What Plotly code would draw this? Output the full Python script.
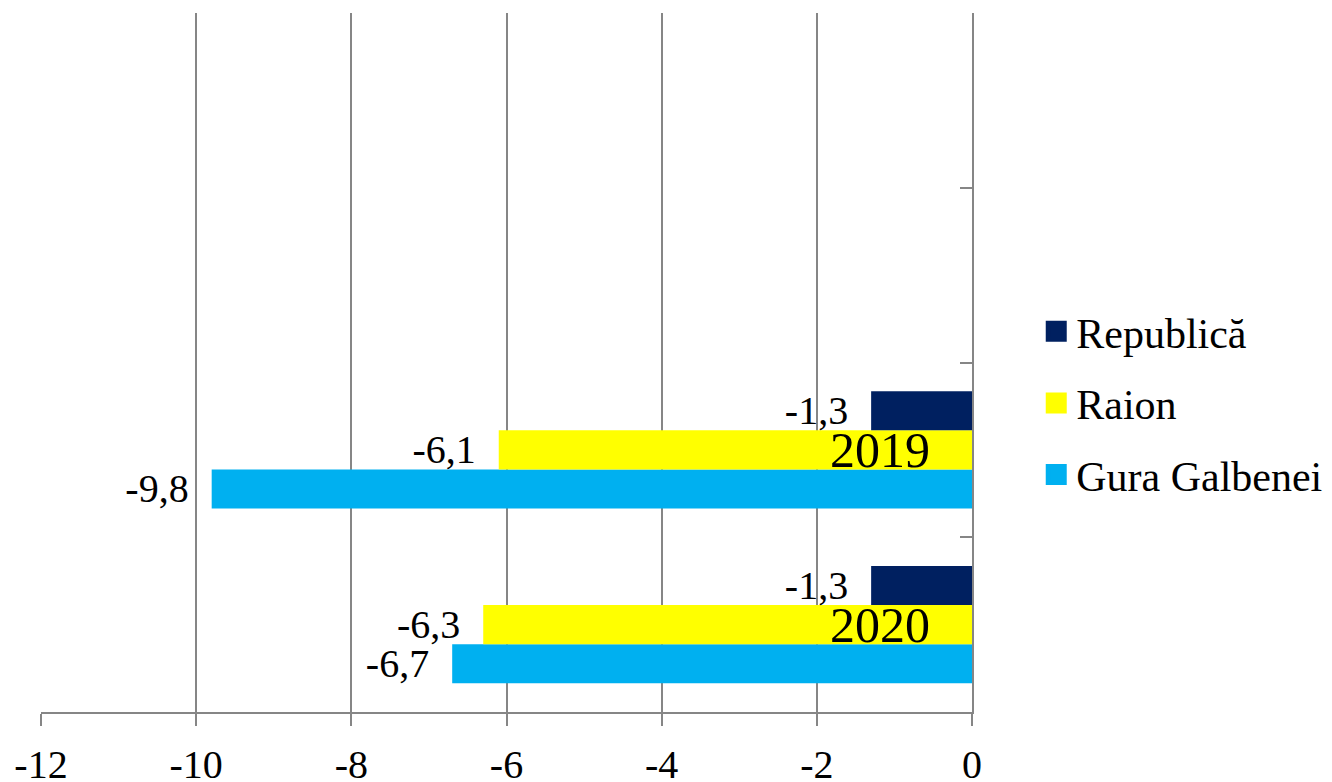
import plotly.graph_objects as go

# ---- data ----
years = ["2020", "2019"]          # bottom to top
year_pos = [0.5, 1.5]
series_names = ["Republică", "Raion", "Gura Galbenei"]
republica = [-1.3, -1.3]
raion = [-6.3, -6.1]
gura = [-6.7, -9.8]
x_tick_vals = [-12, -10, -8, -6, -4, -2, 0]
x_tick_labels = ["-12", "-10", "-8", "-6", "-4", "-2", "0"]
colors = {"Republică": "#002060", "Raion": "#FFFF00", "Gura Galbenei": "#00B0F0"}

FONT = "'Liberation Serif', 'Times New Roman', 'DejaVu Serif', serif"
GRID = "#868686"

def fmt(v):
    return f"{v:.1f}".replace(".", ",") + "\u2002"

fig = go.Figure()
# plotly stacks grouped horizontal bars bottom-up, so add bottom series first
for name, vals in [("Gura Galbenei", gura), ("Raion", raion), ("Republică", republica)]:
    fig.add_trace(go.Bar(
        y=year_pos, x=vals, orientation="h", name=name,
        marker=dict(color=colors[name], line=dict(width=0)),
        text=[fmt(v) for v in vals], textposition="outside",
        textfont=dict(family=FONT, size=40, color="black"),
        constraintext="none", cliponaxis=False, showlegend=False,
    ))

# legend entries
for name in series_names:
    fig.add_trace(go.Scatter(
        x=[None], y=[None], mode="markers", name=name,
        legendgroup=name,
        marker=dict(symbol="square", size=16, color=colors[name],
                    line=dict(color=colors[name], width=5)),
        showlegend=True,
    ))

# category labels drawn next to the value axis, inside the plot
for yr, pos in zip(years, year_pos):
    fig.add_annotation(
        x=0, y=pos, xref="x", yref="y", text=yr, showarrow=False,
        xanchor="right", yanchor="middle", xshift=-40,
        font=dict(family=FONT, size=50, color="black"),
    )

# the page body has an 8px margin, so the figure is offset by 8px
fig.update_layout(
    width=1324, height=774,
    margin=dict(l=33, r=360, t=5, b=70, autoexpand=False),
    paper_bgcolor="white", plot_bgcolor="white",
    barmode="group", bargap=0.33, bargroupgap=0,
    font=dict(family=FONT, size=40, color="black"),
    legend=dict(
        x=1.069, xanchor="left", y=0.442, yanchor="middle",
        font=dict(family=FONT, size=42, color="black"),
        traceorder="grouped", tracegroupgap=14,
        itemsizing="trace", bgcolor="rgba(0,0,0,0)",
    ),
    xaxis=dict(
        range=[-12, 0], tickvals=x_tick_vals, ticktext=x_tick_labels,
        showgrid=True, gridcolor=GRID, gridwidth=2,
        zeroline=False, showline=True, linecolor=GRID, linewidth=2,
        ticks="outside", ticklen=12, tickwidth=2, tickcolor=GRID,
        ticklabelstandoff=4,
        tickfont=dict(family=FONT, size=40, color="black"),
    ),
    yaxis=dict(
        range=[0, 4], side="right", tickvals=[0, 1, 2, 3, 4],
        showticklabels=False, ticks="inside", ticklen=12, tickwidth=2, tickcolor=GRID,
        showgrid=False, zeroline=False, showline=True, linecolor=GRID, linewidth=2,
    ),
)

fig.write_html("out.html")
